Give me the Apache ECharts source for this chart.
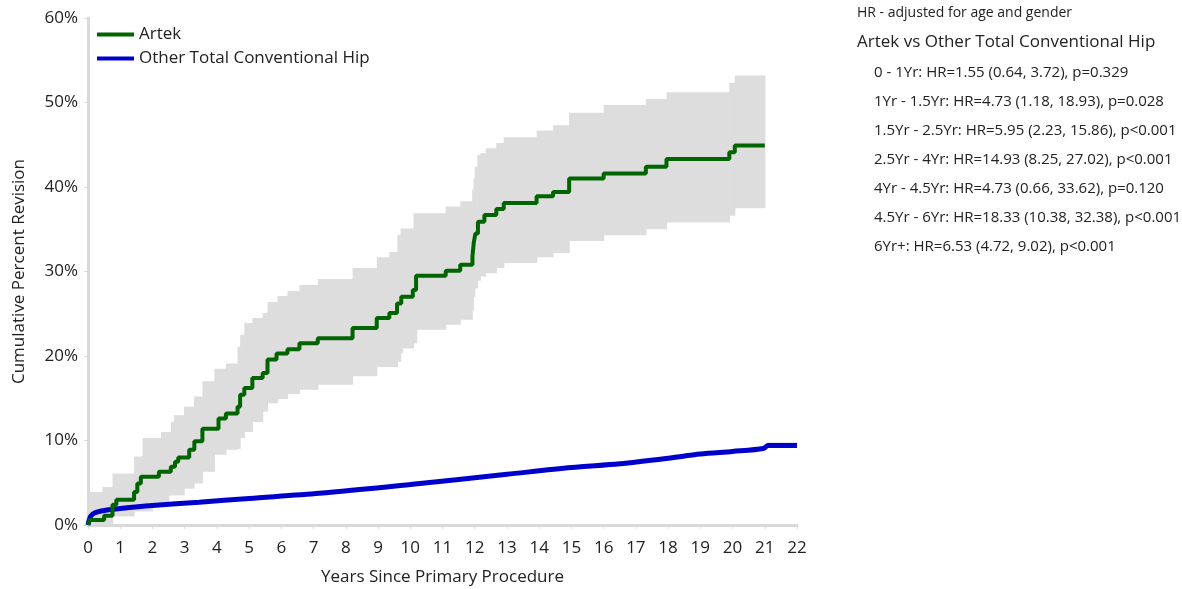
<!DOCTYPE html>
<html>
<head>
<meta charset="utf-8">
<script src="https://cdn.jsdelivr.net/npm/echarts@6/dist/echarts.min.js"></script>
<style>
html,body{margin:0;padding:0;background:#fff;}
#chart{width:1182px;height:589px;}
</style>
</head>
<body>
<div id="chart"></div>
<script>
// ---- Data ----
const artekYears = [0, 0.05, 0.5, 0.76, 0.88, 1.43, 1.53, 1.64, 2.2, 2.57, 2.7, 2.8, 3.14, 3.3, 3.55, 4.05, 4.28, 4.64, 4.72, 4.85, 5.1, 5.42, 5.57, 5.85, 6.19, 6.56, 7.13, 8.21, 8.96, 9.35, 9.59, 9.72, 10.08, 10.18, 11.1, 11.55, 11.93, 11.97, 12.02, 12.1, 12.3, 12.67, 12.9, 13.92, 14.43, 14.93, 16.0, 17.31, 17.95, 19.9, 20.07, 21.0];
const artekPct   = [0, 0.6, 1.1, 2.4, 3.0, 3.9, 4.9, 5.7, 6.3, 6.9, 7.5, 8.0, 8.9, 9.9, 11.4, 12.6, 13.2, 14.0, 15.4, 16.2, 17.4, 18.0, 19.6, 20.3, 20.8, 21.5, 22.1, 23.3, 24.5, 25.1, 26.2, 27.0, 27.8, 29.5, 30.1, 30.8, 31.8, 33.4, 34.5, 35.9, 36.7, 37.4, 38.1, 38.9, 39.4, 41.0, 41.6, 42.4, 43.3, 44.1, 44.9, 44.9];

const artekBandYears = [0.03, 0.45, 0.76, 1.43, 1.69, 2.0, 2.26, 2.5, 2.57, 2.67, 2.98, 3.29, 3.55, 3.92, 4.28, 4.64, 4.72, 4.85, 5.1, 5.42, 5.57, 5.88, 6.19, 6.56, 7.13, 8.21, 8.96, 9.35, 9.6, 9.7, 9.75, 10.1, 10.2, 11.1, 11.55, 11.92, 11.96, 12.0, 12.08, 12.17, 12.34, 12.67, 12.9, 13.92, 14.43, 14.93, 16.0, 17.31, 17.95, 19.9, 20.07, 21.0];
const artekLower = [0, 0, 1.0, 1.6, 1.6, 2.4, 2.4, 3.5, 3.5, 3.5, 4.3, 4.9, 6.3, 8.3, 8.9, 9.0, 10.3, 11.0, 12.2, 13.4, 14.4, 14.9, 15.5, 16.0, 16.6, 17.6, 18.7, 18.7, 19.3, 20.3, 20.9, 21.5, 23.1, 23.7, 24.3, 25.4, 27.0, 28.0, 28.9, 29.4, 29.8, 30.4, 31.0, 31.7, 32.2, 33.6, 34.3, 35.0, 35.8, 36.6, 37.5, 37.5];
const artekUpper = [3.9, 4.5, 6.1, 8.1, 10.3, 10.3, 11.0, 11.0, 12.2, 13.0, 14.0, 15.2, 17.0, 18.5, 19.1, 21.1, 22.5, 23.9, 24.5, 25.1, 26.4, 27.1, 27.7, 28.4, 29.1, 30.4, 31.7, 32.3, 34.3, 35.1, 35.1, 36.9, 36.9, 37.7, 38.3, 39.7, 41.0, 42.4, 43.8, 44.0, 44.6, 45.2, 45.9, 46.7, 47.3, 48.8, 49.7, 50.4, 51.2, 52.3, 53.2, 53.2];

const otherYears = [0, 0.03, 0.08, 0.15, 0.3, 0.55, 1.0, 2.0, 3.45, 5.0, 7.18, 10.0, 13.0, 15.0, 16.5, 18.0, 19.0, 20.0, 20.96, 21.1, 22.0];
const otherPct   = [0, 0.5, 1.0, 1.3, 1.55, 1.75, 1.95, 2.3, 2.7, 3.15, 3.75, 4.8, 6.0, 6.8, 7.25, 7.9, 8.4, 8.7, 9.05, 9.4, 9.4];
const otherBandYears = [18.0, 19.0, 20.0, 20.96, 21.1, 22.0];
const otherLower = [7.75, 8.2, 8.5, 8.85, 9.1, 9.1];
const otherUpper = [8.05, 8.6, 8.9, 9.3, 9.75, 9.75];

const xTicks = {min: 0, max: 22, step: 1};
const yTicks = {min: 0, max: 60, step: 10};

const hrTitle = 'HR - adjusted for age and gender';
const hrSubtitle = 'Artek vs Other Total Conventional Hip';
const hrLines = [
  '0 - 1Yr: HR=1.55 (0.64, 3.72), p=0.329',
  '1Yr - 1.5Yr: HR=4.73 (1.18, 18.93), p=0.028',
  '1.5Yr - 2.5Yr: HR=5.95 (2.23, 15.86), p<0.001',
  '2.5Yr - 4Yr: HR=14.93 (8.25, 27.02), p<0.001',
  '4Yr - 4.5Yr: HR=4.73 (0.66, 33.62), p=0.120',
  '4.5Yr - 6Yr: HR=18.33 (10.38, 32.38), p<0.001',
  '6Yr+: HR=6.53 (4.72, 9.02), p<0.001'
];

// ---- Build ----
const zip = (xs, ys) => xs.map((x, i) => [x, ys[i]]);
const FONT = 'Open Sans';
const TXT = '#222';
const AX = '#d9d9d9';

// Step band: each item = [xStart, xEnd, lower, upper]
const artekBandData = artekBandYears.slice(0, -1).map((x, i) => [x, artekBandYears[i + 1], artekLower[i], artekUpper[i]]);

const graphics = [
  {type: 'text', left: 857, top: 6, style: {text: hrTitle, font: '14px "' + FONT + '"', fill: TXT}},
  {type: 'text', left: 857, top: 34, style: {text: hrSubtitle, font: '17px "' + FONT + '"', fill: TXT}}
];
hrLines.forEach((t, i) => {
  graphics.push({type: 'text', left: 874, top: 65 + i * 29, style: {text: t, font: '15px "' + FONT + '"', fill: TXT}});
});

const chart = echarts.init(document.getElementById('chart'), null, {renderer: 'canvas'});
chart.setOption({
  animation: false,
  backgroundColor: '#fff',
  textStyle: {fontFamily: FONT},
  grid: {left: 88, right: 385, top: 18, bottom: 64, containLabel: false, outerBoundsMode: 'none'},
  legend: {
    data: ['Artek', 'Other Total Conventional Hip'],
    orient: 'vertical', left: 92, top: 21,
    itemWidth: 37, itemHeight: 4, itemGap: 7,
    icon: 'rect',
    textStyle: {fontSize: 17, color: TXT, fontFamily: FONT}
  },
  xAxis: {
    type: 'value', min: xTicks.min, max: xTicks.max, interval: xTicks.step,
    name: 'Years Since Primary Procedure', nameLocation: 'middle', nameGap: 44,
    nameTextStyle: {fontSize: 17, color: TXT, fontFamily: FONT},
    axisLine: {show: true, lineStyle: {color: AX, width: 3}},
    axisTick: {show: true, length: 4, lineStyle: {color: AX}},
    axisLabel: {fontSize: 17, color: TXT, margin: 15, fontFamily: FONT},
    splitLine: {show: false}
  },
  yAxis: {
    type: 'value', min: yTicks.min, max: yTicks.max, interval: yTicks.step,
    name: 'Cumulative Percent Revision', nameLocation: 'middle', nameGap: 60,
    nameTextStyle: {fontSize: 17, color: TXT, fontFamily: FONT},
    axisLine: {show: true, lineStyle: {color: AX, width: 3}},
    axisTick: {show: true, length: 4, lineStyle: {color: AX}},
    axisLabel: {fontSize: 17, color: TXT, margin: 10, formatter: '{value}%', fontFamily: FONT},
    splitLine: {show: false}
  },
  graphic: graphics,
  series: [
    {
      name: 'artekBand', type: 'custom', silent: true, z: 1,
      data: artekBandData,
      encode: {x: [0, 1], y: [2, 3]},
      renderItem: function (params, api) {
        const p0 = api.coord([api.value(0), api.value(3)]);
        const p1 = api.coord([api.value(1), api.value(2)]);
        return {
          type: 'rect',
          shape: {x: p0[0], y: p0[1], width: p1[0] - p0[0] + 0.6, height: p1[1] - p0[1]},
          style: {fill: '#dddddd'}
        };
      }
    },
    {
      name: 'otherBand', type: 'custom', silent: true, z: 1,
      data: otherBandYears.map((x, i) => [x, otherLower[i], otherUpper[i]]),
      encode: {x: 0, y: [1, 2]},
      renderItem: function (params, api) {
        if (params.dataIndex !== 0) return null;
        const n = otherBandYears.length;
        const pts = [];
        for (let i = 0; i < n; i++) pts.push(api.coord([otherBandYears[i], otherUpper[i]]));
        for (let i = n - 1; i >= 0; i--) pts.push(api.coord([otherBandYears[i], otherLower[i]]));
        return {type: 'polygon', shape: {points: pts}, style: {fill: '#c9c9f0'}};
      }
    },
    {
      name: 'Other Total Conventional Hip', type: 'line',
      data: zip(otherYears, otherPct), symbol: 'none', smooth: 0.3,
      color: '#0000cc',
      lineStyle: {color: '#0000cc', width: 5}, z: 3
    },
    {
      name: 'Artek', type: 'line', step: 'end',
      data: zip(artekYears, artekPct), symbol: 'none',
      color: '#006400',
      lineStyle: {color: '#006400', width: 4}, z: 4
    }
  ]
});
</script>
</body>
</html>
